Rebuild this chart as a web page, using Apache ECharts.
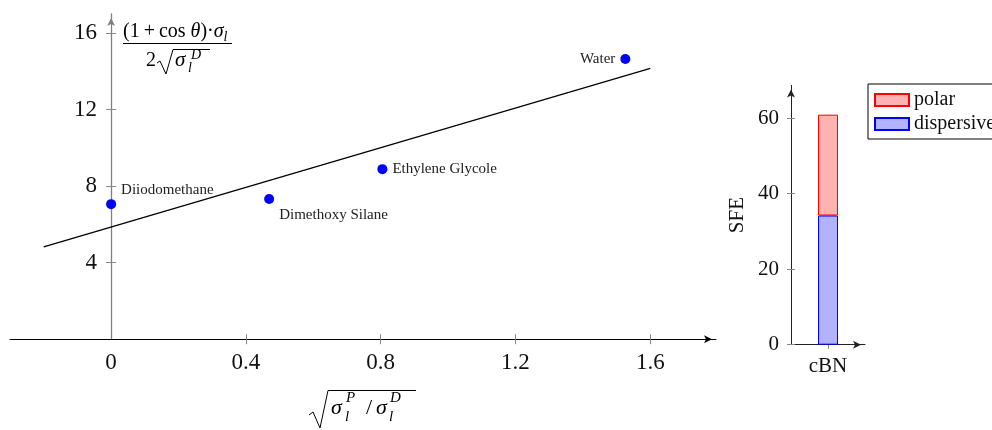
<!DOCTYPE html>
<html>
<head>
<meta charset="utf-8">
<script src="https://cdn.jsdelivr.net/npm/echarts@6/dist/echarts.min.js"></script>
<style>
html,body{margin:0;padding:0;background:#fff;}
#chart{width:992px;height:430px;}
</style>
</head>
<body>
<div id="chart"></div>
<script>
// ---------- data ----------
const pointNames = ['Diiodomethane', 'Dimethoxy Silane', 'Ethylene Glycole', 'Water'];
const pointX = [0, 0.469, 0.805, 1.526];
const pointY = [7.06, 7.33, 8.89, 14.65];
const fitX = [-0.2, 1.6];
const fitY = [4.83, 14.16];
const xTicks = [0, 0.4, 0.8, 1.2, 1.6];
const yTicks = [4, 8, 12, 16];
const barCategories = ['cBN'];
const dispersiveValues = [34.2];
const polarValues = [26.7];
const sfeTicks = [0, 20, 40, 60];

// ---------- layout / style ----------
const F = '"Liberation Serif", "DejaVu Serif", serif';
const X_MIN = -0.3, X_MAX = 1.795, GRID_LEFT = 10, GRID_W = 706;
const yAxisOffset = -(0 - X_MIN) / (X_MAX - X_MIN) * GRID_W; // place y axis at x = 0
const labelPlacement = [
  {position: 'right', offset: [0, -14]},
  {position: 'right', offset: [0, 16]},
  {position: 'right', offset: [0, 0]},
  {position: 'left', offset: [0, 0]}
];
const arrow = {symbol: ['none', 'arrow'], symbolSize: [6, 8], symbolOffset: [0, -4]};

function txt(x, base, s, size, italic) {
  return {type: 'text', x: x, y: base - 0.34 * size, silent: true,
    style: {text: s, fontFamily: F, fontSize: size, fontStyle: italic ? 'italic' : 'normal',
      fill: '#000', align: 'left', verticalAlign: 'middle'}};
}
function pl(points) {
  return {type: 'polyline', silent: true, shape: {points: points},
    style: {stroke: '#000', fill: null, lineWidth: 1}};
}

const graphics = [
  // y label numerator
  {type: 'text', x: 123, y: 32, silent: true, style: {
    text: '{r|(1\u2009+\u2009cos }{i|θ}{r|)·}{i|σ}{s|l}',
    verticalAlign: 'middle', align: 'left', fill: '#000',
    rich: {
      r: {fontFamily: F, fontSize: 20, lineHeight: 24},
      i: {fontFamily: F, fontSize: 20, lineHeight: 24, fontStyle: 'italic'},
      s: {fontFamily: F, fontSize: 14, lineHeight: 12, fontStyle: 'italic', verticalAlign: 'bottom'}
    }}},
  {type: 'line', silent: true, shape: {x1: 123, y1: 43.5, x2: 232, y2: 43.5}, style: {stroke: '#000', lineWidth: 1}},
  txt(146, 68, '2', 20, false),
  pl([[157, 63], [160, 61], [166, 74], [173, 49.5], [210, 49.5]]),
  txt(175, 68, 'σ', 21, true),
  txt(188, 73, 'l', 14, true),
  txt(191, 60, 'D', 14, true),
  // x label
  pl([[309, 415], [313, 412], [320, 428], [328, 390.5], [416, 390.5]]),
  txt(331, 416, 'σ', 22, true),
  txt(346, 403, 'P', 15, true),
  txt(345, 422, 'l', 15, true),
  txt(366, 416, '/', 22, false),
  txt(376, 416, 'σ', 22, true),
  txt(390, 403, 'D', 15, true),
  txt(389, 422, 'l', 15, true)
];

const scatterData = pointNames.map((n, i) => ({
  name: n, value: [pointX[i], pointY[i]],
  label: {position: labelPlacement[i].position, offset: labelPlacement[i].offset}
}));

const tickLbl = {fontFamily: F, fontSize: 23, color: '#111'};
const tickLbl2 = {fontFamily: F, fontSize: 21, color: '#111'};

const option = {
  animation: false,
  backgroundColor: '#fff',
  grid: [
    {left: GRID_LEFT, top: 14, width: GRID_W, height: 325.2, outerBoundsMode: 'none', containLabel: false},
    {left: 791, top: 85.4, width: 74, height: 259.3, outerBoundsMode: 'none', containLabel: false}
  ],
  xAxis: [
    {gridIndex: 0, type: 'value', min: X_MIN, max: X_MAX, position: 'bottom',
      axisLine: Object.assign({show: true, onZero: false, lineStyle: {color: '#000', width: 1}}, arrow),
      axisTick: {show: true, inside: false, length: 5, customValues: xTicks.slice(1), lineStyle: {color: '#888'}},
      axisLabel: Object.assign({show: true, margin: 12, customValues: xTicks}, tickLbl),
      splitLine: {show: false}},
    {gridIndex: 0, type: 'value', min: X_MIN, max: X_MAX, position: 'bottom',
      axisLine: {show: false, onZero: false},
      axisTick: {show: true, inside: true, length: 5, customValues: xTicks.slice(1), lineStyle: {color: '#888'}},
      axisLabel: {show: false}, splitLine: {show: false}},
    {gridIndex: 1, type: 'category', data: barCategories, position: 'bottom',
      axisLine: Object.assign({show: true, onZero: false, lineStyle: {color: '#222', width: 1}}, arrow),
      axisTick: {show: true, alignWithLabel: true, length: 4, lineStyle: {color: '#888'}},
      axisLabel: Object.assign({margin: 11}, tickLbl2),
      splitLine: {show: false}}
  ],
  yAxis: [
    {gridIndex: 0, type: 'value', min: 0, max: 17, position: 'left', offset: yAxisOffset,
      axisLine: Object.assign({show: true, onZero: false, lineStyle: {color: '#808080', width: 1.3}}, arrow),
      axisTick: {show: true, inside: false, length: 5, customValues: yTicks, lineStyle: {color: '#888'}},
      axisLabel: Object.assign({show: true, margin: 14, customValues: yTicks}, tickLbl),
      splitLine: {show: false}},
    {gridIndex: 0, type: 'value', min: 0, max: 17, position: 'left', offset: yAxisOffset,
      axisLine: {show: false, onZero: false},
      axisTick: {show: true, inside: true, length: 5, customValues: yTicks, lineStyle: {color: '#888'}},
      axisLabel: {show: false}, splitLine: {show: false}},
    {gridIndex: 1, type: 'value', min: 0, max: 68.65, position: 'left',
      name: 'SFE', nameLocation: 'middle', nameRotate: 90, nameGap: 43,
      nameTextStyle: {fontFamily: F, fontSize: 21, color: '#111'},
      axisLine: Object.assign({show: true, onZero: false, lineStyle: {color: '#222', width: 1}}, arrow),
      axisTick: {show: true, inside: false, length: 4, customValues: sfeTicks, lineStyle: {color: '#888'}},
      axisLabel: Object.assign({show: true, margin: 12, customValues: sfeTicks}, tickLbl2),
      splitLine: {show: false}},
    {gridIndex: 1, type: 'value', min: 0, max: 68.65, position: 'left',
      axisLine: {show: false, onZero: false},
      axisTick: {show: true, inside: true, length: 4, customValues: sfeTicks, lineStyle: {color: '#888'}},
      axisLabel: {show: false}, splitLine: {show: false}}
  ],
  legend: {
    show: true, orient: 'vertical', left: 868, top: 84,
    data: ['polar', 'dispersive'], icon: 'rect',
    itemWidth: 34, itemHeight: 12, itemGap: 4,
    padding: [6, 40, 5, 6],
    borderColor: '#000', borderWidth: 1, backgroundColor: '#fff',
    textStyle: {fontFamily: F, fontSize: 20, lineHeight: 20, color: '#111'}
  },
  graphic: graphics,
  series: [
    {type: 'line', xAxisIndex: 0, yAxisIndex: 0, data: fitX.map((x, i) => [x, fitY[i]]),
      showSymbol: false, symbol: 'none', lineStyle: {color: '#000', width: 1.2}, z: 2, silent: true},
    {type: 'scatter', xAxisIndex: 0, yAxisIndex: 0, data: scatterData,
      symbol: 'circle', symbolSize: 10, itemStyle: {color: '#0000ff', opacity: 1}, z: 3,
      label: {show: true, formatter: '{b}', fontFamily: F, fontSize: 15, color: '#222', distance: 5}},
    {type: 'bar', name: 'polar', xAxisIndex: 2, yAxisIndex: 2, stack: 'sfe', stackOrder: 'seriesDesc',
      data: polarValues, barWidth: 20, z: 1,
      itemStyle: {color: 'rgba(255,0,0,0.3)', borderColor: '#ff0000', borderWidth: 1}},
    {type: 'bar', name: 'dispersive', xAxisIndex: 2, yAxisIndex: 2, stack: 'sfe', stackOrder: 'seriesDesc',
      data: dispersiveValues, barWidth: 20, z: 5, zlevel: 1,
      itemStyle: {color: 'rgba(0,0,255,0.3)', borderColor: '#0000ff', borderWidth: 1}}
  ]
};

const chart = echarts.init(document.getElementById('chart'), null, {renderer: 'canvas'});
chart.setOption(option);
</script>
</body>
</html>
